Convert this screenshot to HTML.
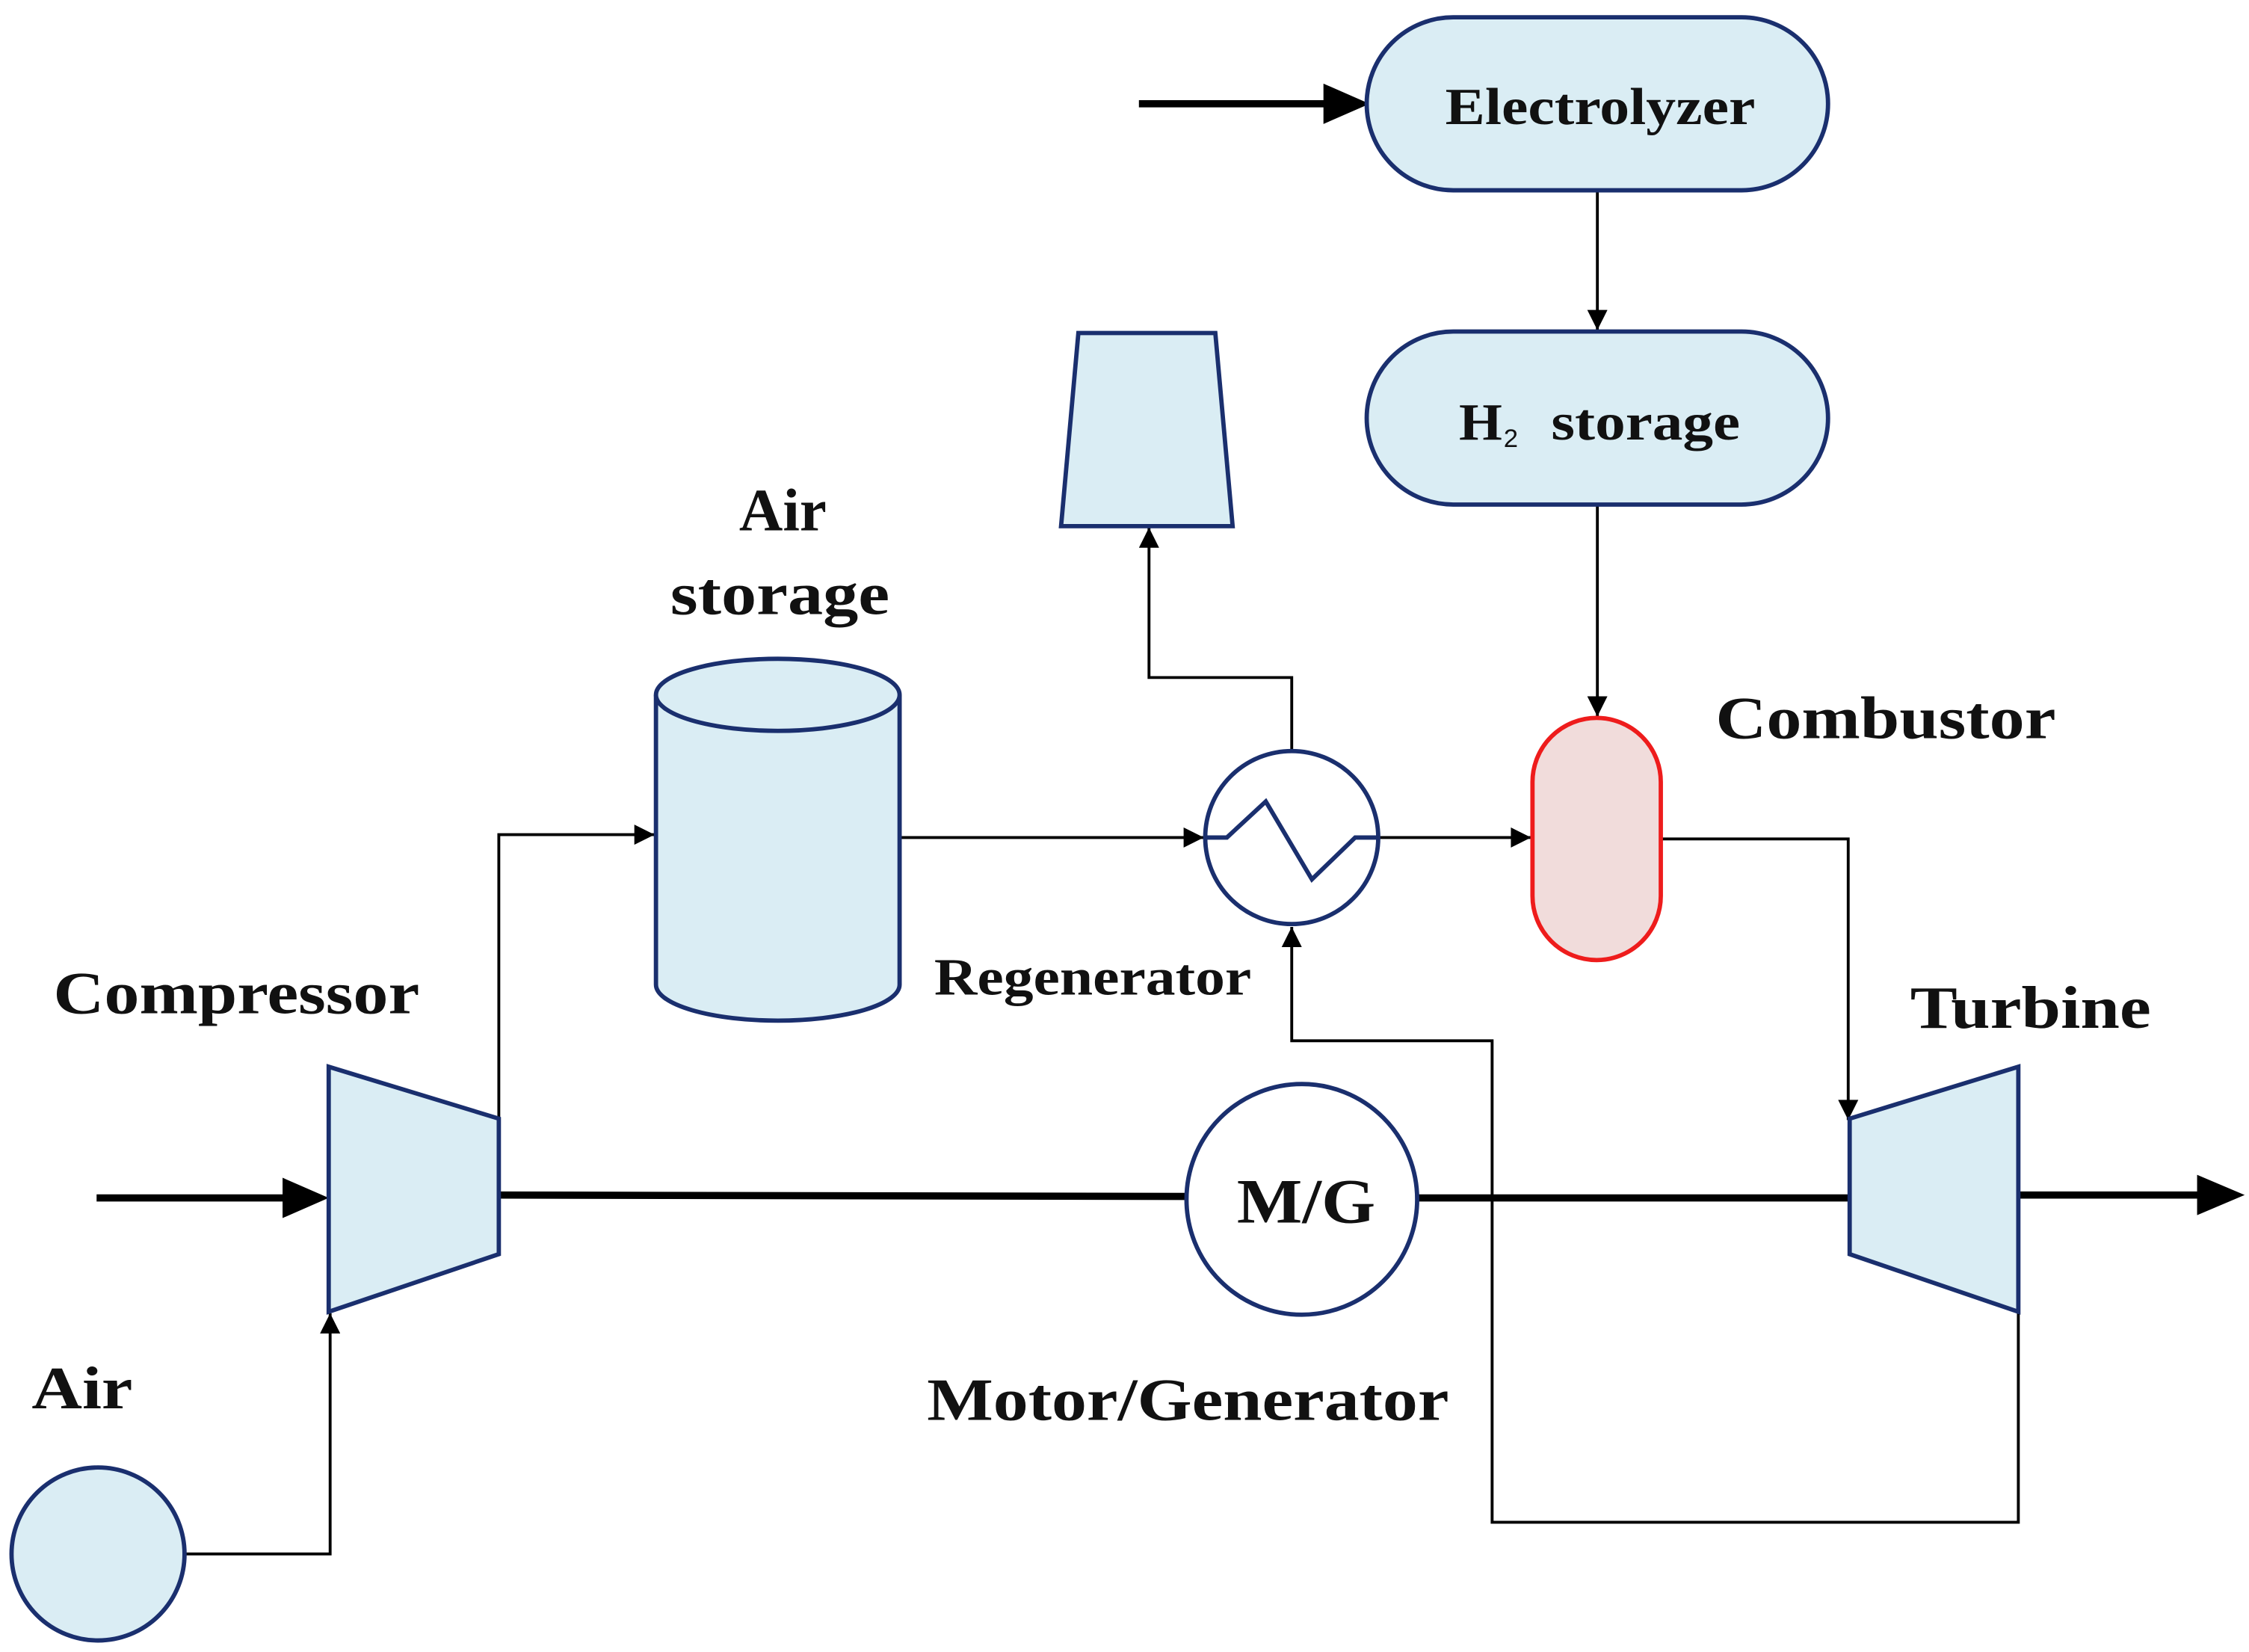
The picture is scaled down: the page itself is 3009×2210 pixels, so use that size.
<!DOCTYPE html>
<html><head><meta charset="utf-8"><style>
html,body{margin:0;padding:0;background:#fff;}
svg{display:block;}
text{font-family:"Liberation Serif","Times New Roman",serif;font-weight:bold;fill:#111;}
</style></head><body>
<svg width="3009" height="2210" viewBox="0 0 1560 1146" preserveAspectRatio="none" xmlns="http://www.w3.org/2000/svg">
<defs>
<marker id="a" viewBox="0 0 10 10" refX="10" refY="5" markerWidth="16" markerHeight="14" orient="auto" markerUnits="userSpaceOnUse"><path d="M0,0L10,5L0,10z" fill="#000"/></marker>
</defs>
<g fill="none" stroke="#000">
<line x1="790" y1="72" x2="930" y2="72" stroke-width="5"/>
<path d="M918,58 L950,72 L918,86z" fill="#000" stroke="none"/>
<line x1="67" y1="831" x2="210" y2="831" stroke-width="5"/>
<path d="M196,817 L228,831 L196,845z" fill="#000" stroke="none"/>
<line x1="1400" y1="829" x2="1535" y2="829" stroke-width="5"/>
<path d="M1524,815 L1557,829 L1524,843z" fill="#000" stroke="none"/>
<line x1="346" y1="829" x2="824" y2="830" stroke-width="5"/>
<line x1="984" y1="831" x2="1283" y2="831" stroke-width="5"/>
<g stroke-width="2">
<path d="M1108,132 V229" marker-end="url(#a)"/>
<path d="M1108,350 V497" marker-end="url(#a)"/>
<path d="M896,522 V470 H797 V366" marker-end="url(#a)"/>
<path d="M346,776 V579 H454" marker-end="url(#a)"/>
<path d="M624,581 H835" marker-end="url(#a)"/>
<path d="M956,581 H1062" marker-end="url(#a)"/>
<path d="M1152,582 H1282 V777" marker-end="url(#a)"/>
<path d="M1400,910 V1056 H1035 V722 H896 V643" marker-end="url(#a)"/>
<path d="M128,1078 H229 V911" marker-end="url(#a)"/>
</g>
</g>
<g stroke="#1a2f6e" stroke-width="3" fill="#daedf4">
<rect x="948" y="12" width="320" height="120" rx="60"/>
<rect x="948" y="230" width="320" height="120" rx="60"/>
<rect x="1063" y="498" width="89" height="168" rx="44.5" fill="#f1dcdb" stroke="#ee1c1c"/>
<path d="M748,231 H843 L855,365 H736z"/>
<circle cx="896" cy="581" r="60" fill="#fff"/>
<path d="M836,581 H851 L878,556 L910,610 L940,581 H956" fill="none"/>
<path d="M455,482 V683 A84.5,25 0 0 0 624,683 V482" />
<ellipse cx="539.5" cy="482" rx="84.5" ry="25"/>
<path d="M228,740 L346,776 V870 L228,910z"/>
<path d="M1283,776 L1400,740 V910 L1283,870z"/>
<circle cx="903" cy="832" r="80" fill="#fff"/>
<circle cx="68" cy="1078" r="60"/>
</g>
<g>
<text x="1110" y="86" font-size="36" text-anchor="middle" textLength="215" lengthAdjust="spacingAndGlyphs">Electrolyzer</text>
<text x="1012" y="305" font-size="36" textLength="30" lengthAdjust="spacingAndGlyphs">H</text>
<text x="1043" y="310" font-size="18" style="font-family:'Liberation Sans',sans-serif;font-weight:normal">2</text>
<text x="1076" y="305" font-size="36" textLength="131" lengthAdjust="spacingAndGlyphs">storage</text>
<text x="543" y="368" font-size="42" text-anchor="middle">Air</text>
<text x="541" y="426" font-size="42" text-anchor="middle" textLength="152" lengthAdjust="spacingAndGlyphs">storage</text>
<text x="1190" y="512" font-size="42" textLength="236" lengthAdjust="spacingAndGlyphs">Combustor</text>
<text x="648" y="690" font-size="36" textLength="220" lengthAdjust="spacingAndGlyphs">Regenerator</text>
<text x="37" y="703" font-size="42" textLength="254" lengthAdjust="spacingAndGlyphs">Compressor</text>
<text x="1325" y="713" font-size="42" textLength="167" lengthAdjust="spacingAndGlyphs">Turbine</text>
<text x="906" y="848" font-size="44" text-anchor="middle" textLength="96" lengthAdjust="spacingAndGlyphs">M/G</text>
<text x="643" y="985" font-size="42" textLength="362" lengthAdjust="spacingAndGlyphs">Motor/Generator</text>
<text x="22" y="977" font-size="42" textLength="70" lengthAdjust="spacingAndGlyphs">Air</text>
</g>
</svg>
</body></html>
